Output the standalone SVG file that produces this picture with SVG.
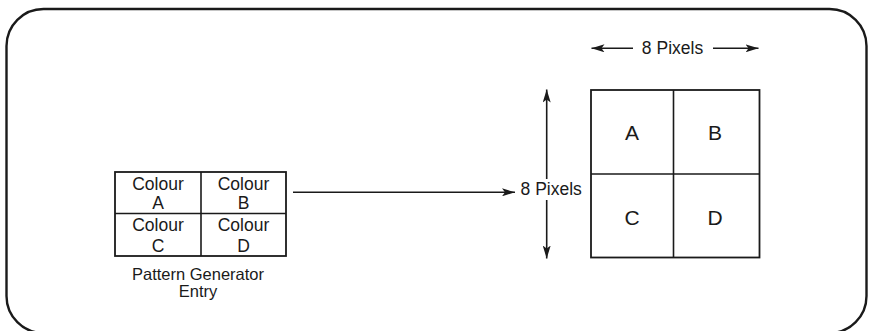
<svg xmlns="http://www.w3.org/2000/svg" width="869" height="331" viewBox="0 0 869 331">
<style>
  .ln{stroke:#1a1a1a;stroke-width:1.6;fill:none}
  .box{stroke:#1a1a1a;stroke-width:1.8;fill:#fff}
  .t{font-family:"Liberation Sans",Arial,sans-serif;fill:#1a1a1a;text-anchor:middle}
  .s{font-size:17.5px}
  .c{font-size:16.5px}
  .b{font-size:21px}
</style>
<defs>
  <marker id="ah" markerWidth="14" markerHeight="8" refX="13" refY="4" orient="auto" markerUnits="userSpaceOnUse">
    <path d="M0,0 L13,4 L0,8 L3,4 Z" fill="#1a1a1a"/>
  </marker>
</defs>
<rect width="869" height="331" fill="#fff"/>
<g id="frame">
  <rect x="6.5" y="9" width="860" height="324" rx="37" ry="37" fill="none" stroke="#1a1a1a" stroke-width="2.4"/>
</g>
<g id="pattern-entry">
  <rect class="box" x="115" y="172" width="171" height="84"/>
  <line class="ln" x1="201" y1="172" x2="201" y2="256"/>
  <line class="ln" x1="115" y1="213.5" x2="286" y2="213.5"/>
  <text class="t s" x="158" y="189.5">Colour</text>
  <text class="t s" x="158" y="209">A</text>
  <text class="t s" x="243.5" y="189.5">Colour</text>
  <text class="t s" x="243.5" y="209">B</text>
  <text class="t s" x="158" y="231">Colour</text>
  <text class="t s" x="158" y="251.5">C</text>
  <text class="t s" x="243.5" y="231">Colour</text>
  <text class="t s" x="243.5" y="251.5">D</text>
  <text class="t c" x="198" y="280">Pattern Generator</text>
  <text class="t c" x="198" y="296.5">Entry</text>
</g>
<g id="pixel-grid">
  <rect class="box" x="591" y="90" width="168.5" height="167.5"/>
  <line class="ln" x1="673.5" y1="90" x2="673.5" y2="257.5"/>
  <line class="ln" x1="591" y1="174" x2="759.5" y2="174"/>
  <text class="t b" x="632" y="140">A</text>
  <text class="t b" x="715" y="140">B</text>
  <text class="t b" x="632" y="225">C</text>
  <text class="t b" x="715" y="225">D</text>
</g>
<g id="connectors">
  <line class="ln" x1="293" y1="192.3" x2="515" y2="192.3" marker-end="url(#ah)"/>
  <line class="ln" x1="546.7" y1="179" x2="546.7" y2="89.5" marker-end="url(#ah)"/>
  <line class="ln" x1="546.7" y1="200" x2="546.7" y2="258.5" marker-end="url(#ah)"/>
  <line class="ln" x1="633" y1="48.3" x2="591.5" y2="48.3" marker-end="url(#ah)"/>
  <line class="ln" x1="713" y1="48.3" x2="758.5" y2="48.3" marker-end="url(#ah)"/>
</g>
<g id="labels">
  <text class="t s" x="551.2" y="195">8 Pixels</text>
  <text class="t s" x="672.5" y="54">8 Pixels</text>
</g>
</svg>
